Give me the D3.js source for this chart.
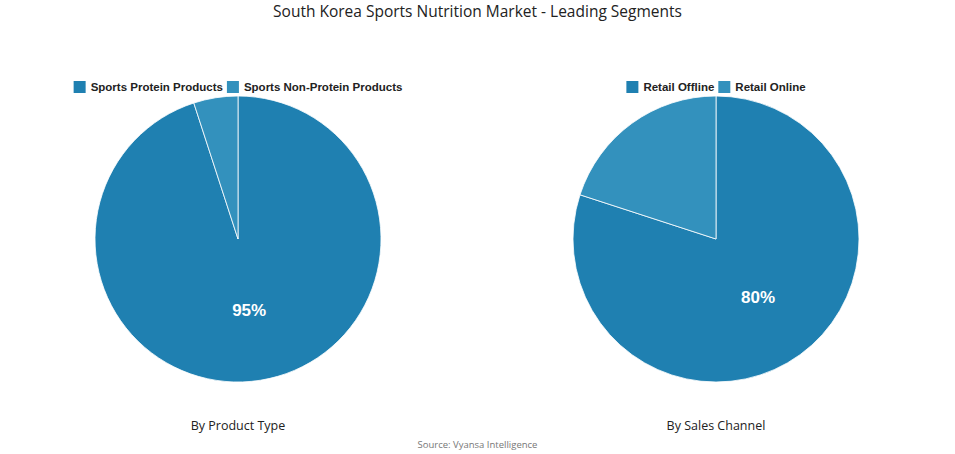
<!DOCTYPE html>
<html><head><meta charset="utf-8">
<script src="https://cdn.jsdelivr.net/npm/d3@7"></script>
<style>body{margin:0;background:#fff}</style>
</head><body><div id="chart"></div>
<script>
var width = 955, height = 454;
var colors = ['#1f80b1', '#3391bd'];
var productLabels = ['Sports Protein Products', 'Sports Non-Protein Products'];
var productValues = [95, 5];
var channelLabels = ['Retail Offline', 'Retail Online'];
var channelValues = [80, 20];

var svg = d3.select('#chart').append('svg')
    .attr('width', width).attr('height', height);

svg.append('text').attr('x', width / 2).attr('y', 17)
    .attr('text-anchor', 'middle').attr('font-family', 'Open Sans, sans-serif')
    .attr('font-size', 15.5).attr('fill', '#222')
    .text('South Korea Sports Nutrition Market - Leading Segments');

svg.append('text').attr('x', width / 2).attr('y', 448)
    .attr('text-anchor', 'middle').attr('font-family', 'Open Sans, sans-serif')
    .attr('font-size', 9.5).attr('fill', '#777')
    .text('Source: Vyansa Intelligence');

function drawPie(cx, labels, values, caption) {
    var cy = 239, r = 143;
    var pie = d3.pie().sort(null);
    var arc = d3.arc().innerRadius(0).outerRadius(r);
    var g = svg.append('g').attr('transform', 'translate(' + cx + ',' + cy + ')');
    var arcs = pie(values);
    g.selectAll('path').data(arcs).enter().append('path')
        .attr('d', arc)
        .attr('fill', function (d, i) { return colors[i]; })
        .attr('stroke', '#fff').attr('stroke-width', 0.8);
    var labelArc = d3.arc().innerRadius(r * 0.5).outerRadius(r * 0.5);
    g.selectAll('text.lbl').data(arcs.slice(0, 1)).enter().append('text')
        .attr('class', 'lbl')
        .attr('transform', function (d) { return 'translate(' + labelArc.centroid(d) + ')'; })
        .attr('dy', '0.35em').attr('text-anchor', 'middle')
        .attr('font-family', 'Liberation Sans, Arial, sans-serif')
        .attr('font-weight', 'bold').attr('font-size', 17).attr('fill', '#fff')
        .text(function (d) { return d.data + '%'; });

    svg.append('text').attr('x', cx).attr('y', 430)
        .attr('text-anchor', 'middle').attr('font-family', 'Open Sans, sans-serif')
        .attr('font-size', 12.5).attr('fill', '#222').text(caption);

    // legend
    var leg = svg.append('g');
    var x = 0;
    labels.forEach(function (l, i) {
        var item = leg.append('g').attr('transform', 'translate(' + x + ',0)');
        item.append('rect').attr('width', 12).attr('height', 12).attr('y', -10).attr('fill', colors[i]);
        var t = item.append('text').attr('x', 17).attr('font-family', 'Liberation Sans, Arial, sans-serif')
            .attr('font-weight', 'bold').attr('font-size', 11.5).attr('fill', '#222').text(l);
        x += 17 + t.node().getComputedTextLength() + 4;
    });
    leg.attr('transform', 'translate(' + (cx - (x - 4) / 2) + ',91)');
}

drawPie(238, productLabels, productValues, 'By Product Type');
drawPie(716, channelLabels, channelValues, 'By Sales Channel');
</script></body></html>
